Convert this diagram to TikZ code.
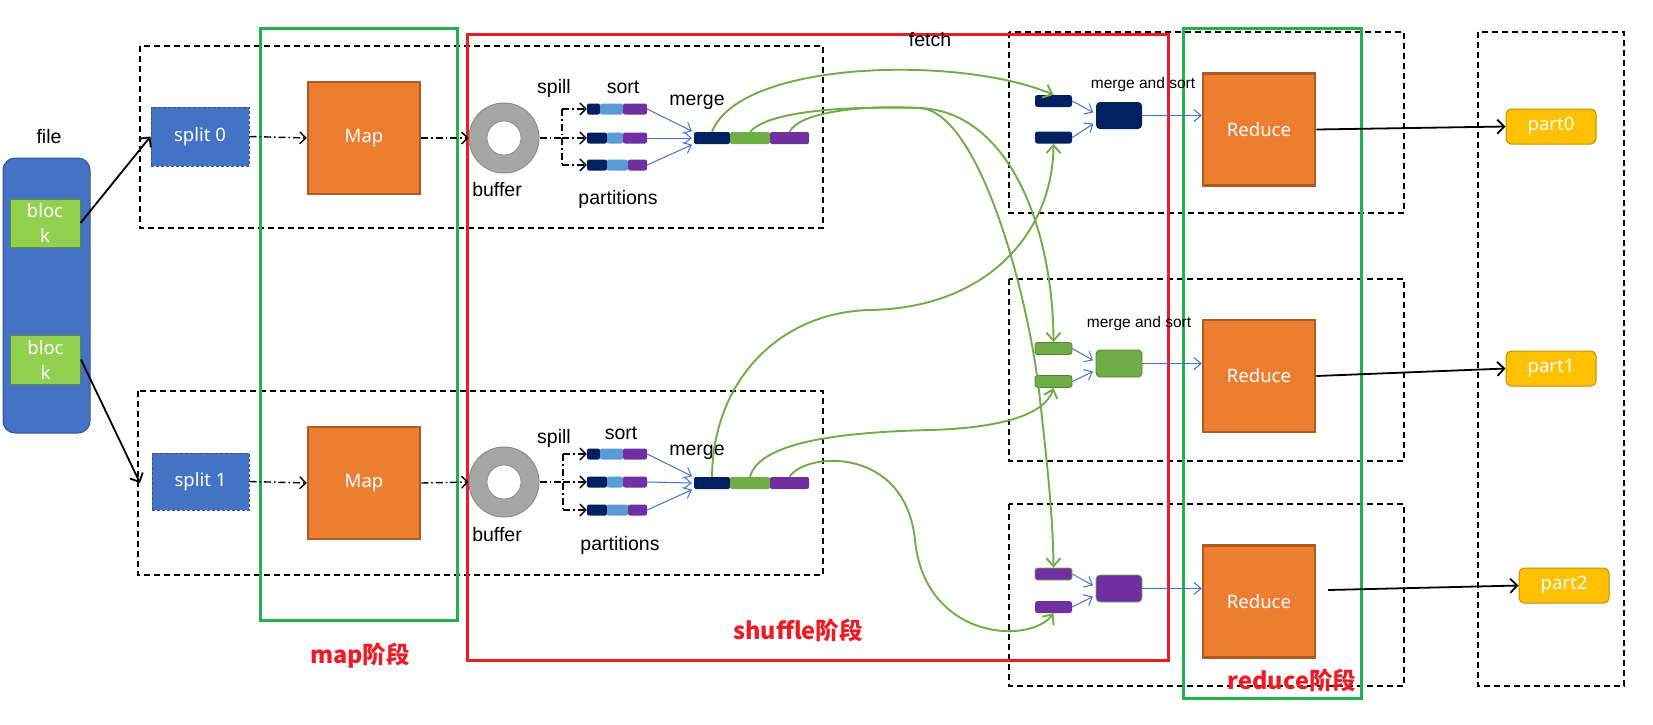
\documentclass[tikz,border=0pt]{standalone}
\usepackage{fontspec}
\setmainfont{Liberation Sans}
\newfontfamily\wf{Noto Sans}
\newfontfamily\cjk{Noto Sans CJK SC}
\usetikzlibrary{arrows.meta,calc}
\definecolor{oblue}{HTML}{4472C4}
\definecolor{oblueD}{HTML}{2F5597}
\definecolor{navy}{HTML}{002060}
\definecolor{lblue}{HTML}{5B9BD5}
\definecolor{purp}{HTML}{7030A0}
\definecolor{ogreen}{HTML}{70AD47}
\definecolor{ogreenD}{HTML}{548235}
\definecolor{lgreen}{HTML}{92D050}
\definecolor{blkD}{HTML}{5E8C3A}
\definecolor{orng}{HTML}{ED7D31}
\definecolor{orngD}{HTML}{AE5A21}
\definecolor{gold}{HTML}{FFC000}
\definecolor{goldD}{HTML}{BF9000}
\definecolor{frameG}{HTML}{22B14C}
\definecolor{frameR}{HTML}{ED1C24}
\definecolor{bufG}{HTML}{A6A6A6}
\definecolor{bufD}{HTML}{8C8C8C}
\begin{document}
\begin{tikzpicture}[x=1pt,y=-1pt,
  region/.style={draw=black, line width=1.3pt, dash pattern=on 6pt off 4pt},
  frameg/.style={draw=frameG, line width=3pt},
  framer/.style={draw=frameR, line width=3pt},
  lbl/.style={inner sep=0pt, font=\fontsize{19.5}{22}\selectfont},
  small/.style={inner sep=0pt, font=\fontsize{15.5}{18}\selectfont},
  stage/.style={inner sep=0pt, text=frameR, font=\cjk\bfseries\fontsize{23.5}{26}\selectfont},
  wtext/.style={text=white, font=\wf\fontsize{18.5}{25}\selectfont},
  splitbox/.style={rectangle, inner sep=0pt, fill=oblue, draw=oblueD, line width=1pt, dash pattern=on 3pt off 2pt, wtext},
  mapbox/.style={rectangle, inner sep=0pt, fill=orng, draw=orngD, line width=2.5pt, minimum width=112pt, minimum height=112pt, wtext},
  partbox/.style={rectangle, rounded corners=5pt, inner sep=0pt, fill=gold, draw=goldD, line width=1pt, minimum width=90pt, minimum height=35pt, wtext},
  seg/.style={rectangle, inner sep=0pt, rounded corners=2pt, minimum height=11pt},
  mseg/.style={rectangle, inner sep=0pt, rounded corners=2pt, minimum height=12pt},
  rbar/.style={rectangle, inner sep=0pt, rounded corners=2.5pt, minimum width=37pt, minimum height=12pt},
  rblock/.style={rectangle, inner sep=0pt, rounded corners=4pt, minimum width=46pt, minimum height=27pt},
  dd/.style={draw=black, line width=1.4pt, dash pattern=on 7pt off 3pt on 1.5pt off 3pt},
  ddarrow/.style={dd, -{Straight Barb[length=6pt,width=12pt,line width=1.4pt]}},
  blarrow/.style={draw=black, line width=1.8pt, -{Straight Barb[length=7pt,width=14pt,line width=1.8pt]}},
  bluearrow/.style={draw=oblue, line width=1pt, -{Straight Barb[length=7pt,width=12pt,line width=1pt]}},
  fetcharrow/.style={draw=ogreen, line width=1.9pt, -{Straight Barb[length=8pt,width=14pt,line width=1.9pt]}}
]
\useasboundingbox (0,0) rectangle (1653,724);

% regions and stage frames
\draw[region] (140,46) rectangle (823,228);
\draw[region] (138,391) rectangle (823,575);
\draw[region] (1009,32) rectangle (1404,213);
\draw[region] (1009,279) rectangle (1404,461);
\draw[region] (1009,504) rectangle (1404,686);
\draw[region] (1478,32) rectangle (1624,686);
\draw[frameg] (260,28) rectangle (457,620);
\draw[frameg] (1183,28) rectangle (1361,698);
\draw[framer] (467,34) rectangle (1168,660);

\node[stage] (lmap) at (360,656) {map阶段};
\node[stage] (lshuf) at (798,630) {shuffle阶段};
\node[stage] (lred) at (1292,680) {reduce阶段};
\node[lbl] (lfetch) at (930,40) {fetch};

% file and blocks
\node[lbl] (lfile) at (49,137) {file};
\node[rectangle, rounded corners=12pt, fill=oblue, draw=oblueD, line width=1pt, minimum width=87pt, minimum height=275pt, inner sep=0pt] (file) at (46.5,295.5) {};
\node[rectangle, fill=lgreen, draw=blkD, line width=1pt, minimum width=70pt, minimum height=48pt, inner sep=0pt, align=center, wtext] (blk1) at (45,223) {bloc\\k};
\node[rectangle, fill=lgreen, draw=blkD, line width=1pt, minimum width=70pt, minimum height=49pt, inner sep=0pt, align=center, wtext] (blk2) at (45.5,359.5) {bloc\\k};

% splits and maps
\node[splitbox, minimum width=98pt, minimum height=59pt] (s0) at (200,136.5) {split 0};
\node[splitbox, minimum width=97pt, minimum height=57pt] (s1) at (200.5,481.5) {split 1};
\node[mapbox] (map1) at (364,138) {Map};
\node[mapbox] (map2) at (364,483) {Map};
\coordinate (s1in) at (140,483);
\draw[blarrow] (blk1.east) -- (s0.west);
\draw[blarrow] (blk2.east) -- (s1in);
\draw[ddarrow] (s0.east) -- (map1.west);
\draw[ddarrow] (s1.east) -- (map2.west);

% buffers
\node[circle, minimum size=70pt, fill=bufG, draw=bufD, line width=1pt, inner sep=0pt] (buf1) at (504,138) {};
\node[circle, minimum size=34pt, fill=white, draw=bufD, line width=0.8pt, inner sep=0pt] (hole1) at (504,138) {};
\node[circle, minimum size=70pt, fill=bufG, draw=bufD, line width=1pt, inner sep=0pt] (buf2) at (504,482) {};
\node[circle, minimum size=34pt, fill=white, draw=bufD, line width=0.8pt, inner sep=0pt] (hole2) at (504,482) {};
\draw[ddarrow] (map1.east) -- (buf1.west);
\draw[ddarrow] (map2.east) -- (buf2.west);

\node[lbl] (lbuf1) at (497,190) {buffer};
\node[lbl] (lbuf2) at (497,535) {buffer};
\node[lbl] (lspill1) at (554,88) {spill};
\node[lbl] (lspill2) at (554,438) {spill};
\node[lbl] (lsort1) at (623,87) {sort};
\node[lbl] (lsort2) at (621,433) {sort};
\node[lbl] (lmerge1) at (697,102) {merge};
\node[lbl] (lmerge2) at (697,452) {merge};
\node[lbl] (lpart1) at (618,199) {partitions};
\node[lbl] (lpart2) at (620,545) {partitions};

% partition bars, map 1
\foreach \r/\y/\na/\la/\pa in {a/109/600/623/623, b/138/607/623/623, c/165/607/628/628}{
  \pgfmathsetmacro{\cn}{(587+\na)/2}\pgfmathsetmacro{\wn}{\na-587}
  \pgfmathsetmacro{\cl}{(\na+\la)/2}\pgfmathsetmacro{\wl}{\la-\na}
  \pgfmathsetmacro{\cp}{(\pa+647)/2}\pgfmathsetmacro{\wp}{647-\pa}
  \node[seg, fill=navy, minimum width=\wn pt] (t\r n) at (\cn,\y) {};
  \node[seg, fill=lblue, minimum width=\wl pt] (t\r l) at (\cl,\y) {};
  \node[seg, fill=purp, minimum width=\wp pt] (t\r p) at (\cp,\y) {};
}
\foreach \r/\y/\na/\la/\pa in {a/454/600/623/623, b/482/607/623/623, c/510/607/628/628}{
  \pgfmathsetmacro{\cn}{(587+\na)/2}\pgfmathsetmacro{\wn}{\na-587}
  \pgfmathsetmacro{\cl}{(\na+\la)/2}\pgfmathsetmacro{\wl}{\la-\na}
  \pgfmathsetmacro{\cp}{(\pa+647)/2}\pgfmathsetmacro{\wp}{647-\pa}
  \node[seg, fill=navy, minimum width=\wn pt] (u\r n) at (\cn,\y) {};
  \node[seg, fill=lblue, minimum width=\wl pt] (u\r l) at (\cl,\y) {};
  \node[seg, fill=purp, minimum width=\wp pt] (u\r p) at (\cp,\y) {};
}

% spill forks
\coordinate (fk1) at (562,138); \coordinate (fk1t) at (562,109); \coordinate (fk1b) at (562,165);
\coordinate (fk2) at (563,482); \coordinate (fk2t) at (563,454); \coordinate (fk2b) at (563,510);
\draw[dd] (buf1.east) -- (fk1);
\draw[dd] (fk1t) -- (fk1b);
\draw[ddarrow] (fk1t) -- (tan.west);
\draw[ddarrow] (fk1) -- (tbn.west);
\draw[ddarrow] (fk1b) -- (tcn.west);
\draw[dd] (buf2.east) -- (fk2);
\draw[dd] (fk2t) -- (fk2b);
\draw[ddarrow] (fk2t) -- (uan.west);
\draw[ddarrow] (fk2) -- (ubn.west);
\draw[ddarrow] (fk2b) -- (ucn.west);

% merged bars
\node[mseg, fill=navy, minimum width=36pt] (m1n) at (712,138) {};
\node[mseg, fill=ogreen, minimum width=40pt] (m1g) at (750,138) {};
\node[mseg, fill=purp, minimum width=39pt] (m1p) at (789.5,138) {};
\node[mseg, fill=navy, minimum width=36pt] (m2n) at (712,483) {};
\node[mseg, fill=ogreen, minimum width=40pt] (m2g) at (750,483) {};
\node[mseg, fill=purp, minimum width=39pt] (m2p) at (789.5,483) {};
\draw[bluearrow, shorten >=2pt] (tap.east) -- (m1n.162);
\draw[bluearrow, shorten >=2pt] (tbp.east) -- (m1n.west);
\draw[bluearrow, shorten >=2pt] (tcp.east) -- (m1n.198);
\draw[bluearrow, shorten >=2pt] (uap.east) -- (m2n.162);
\draw[bluearrow, shorten >=2pt] (ubp.east) -- (m2n.west);
\draw[bluearrow, shorten >=2pt] (ucp.east) -- (m2n.198);

% reduce side bars
\node[rbar, fill=navy] (r1a) at (1053.5,101) {};
\node[rbar, fill=navy] (r1b) at (1053.5,137.5) {};
\node[rblock, fill=navy] (r1m) at (1119,115.5) {};
\node[rbar, fill=ogreen, draw=ogreenD, line width=0.8pt] (r2a) at (1053.5,348.5) {};
\node[rbar, fill=ogreen, draw=ogreenD, line width=0.8pt] (r2b) at (1053.5,381.5) {};
\node[rblock, fill=ogreen, draw=ogreenD, line width=0.8pt] (r2m) at (1119,363.5) {};
\node[rbar, fill=purp, draw=ogreen, line width=0.8pt] (r3a) at (1053.5,574) {};
\node[rbar, fill=purp] (r3b) at (1053.5,607) {};
\node[rblock, fill=purp, draw=ogreen, line width=0.8pt] (r3m) at (1119,588.5) {};
\node[small] (lms1) at (1143,84) {merge and sort};
\node[small] (lms2) at (1139,323) {merge and sort};

\node[mapbox] (red1) at (1259,129.5) {Reduce};
\node[mapbox] (red2) at (1259,376) {Reduce};
\node[mapbox] (red3) at (1259,601.5) {Reduce};

\foreach \k in {1,2,3}{
  \draw[bluearrow, shorten >=3pt] (r\k a.east) -- (r\k m.176);
  \draw[bluearrow, shorten >=3pt] (r\k b.east) -- (r\k m.196);
  \draw[bluearrow] (r\k m.east) -- (r\k m.east -| red\k.west);
}

% parts
\node[partbox] (part0) at (1551,126.5) {part0};
\node[partbox] (part1) at (1551,368.5) {part1};
\node[partbox] (part2) at (1564,585.5) {part2};
\coordinate (red3out) at (1328,590);
\draw[blarrow] (red1.east) -- (part0.west);
\draw[blarrow] (red2.east) -- (part1.west);
\draw[blarrow] (red3out) -- (part2.west);

% fetch curves
\draw[fetcharrow] (m1n.north) .. controls (740,60) and (960,55) .. (r1a.north);
\draw[fetcharrow] (m1g.north) .. controls (770,110) and (850,106) .. (920,108) .. controls (1010,112) and (1053,230) .. (r2a.north);
\draw[fetcharrow] (m1p.north) .. controls (800,112) and (860,105) .. (920,108) .. controls (980,112) and (1030,300) .. (1040,400) .. controls (1048,470) and (1053,520) .. (r3a.north);
\draw[fetcharrow] (m2n.north) .. controls (713,380) and (780,312) .. (870,310) .. controls (990,308) and (1053,230) .. (r1b.south);
\draw[fetcharrow] (m2g.north) .. controls (760,440) and (850,432) .. (930,430) .. controls (1000,428) and (1045,415) .. (r2b.south);
\draw[fetcharrow] (m2p.north) .. controls (805,452) and (905,445) .. (915,540) .. controls (925,640) and (1030,645) .. (r3b.south);
\end{tikzpicture}
\end{document}
